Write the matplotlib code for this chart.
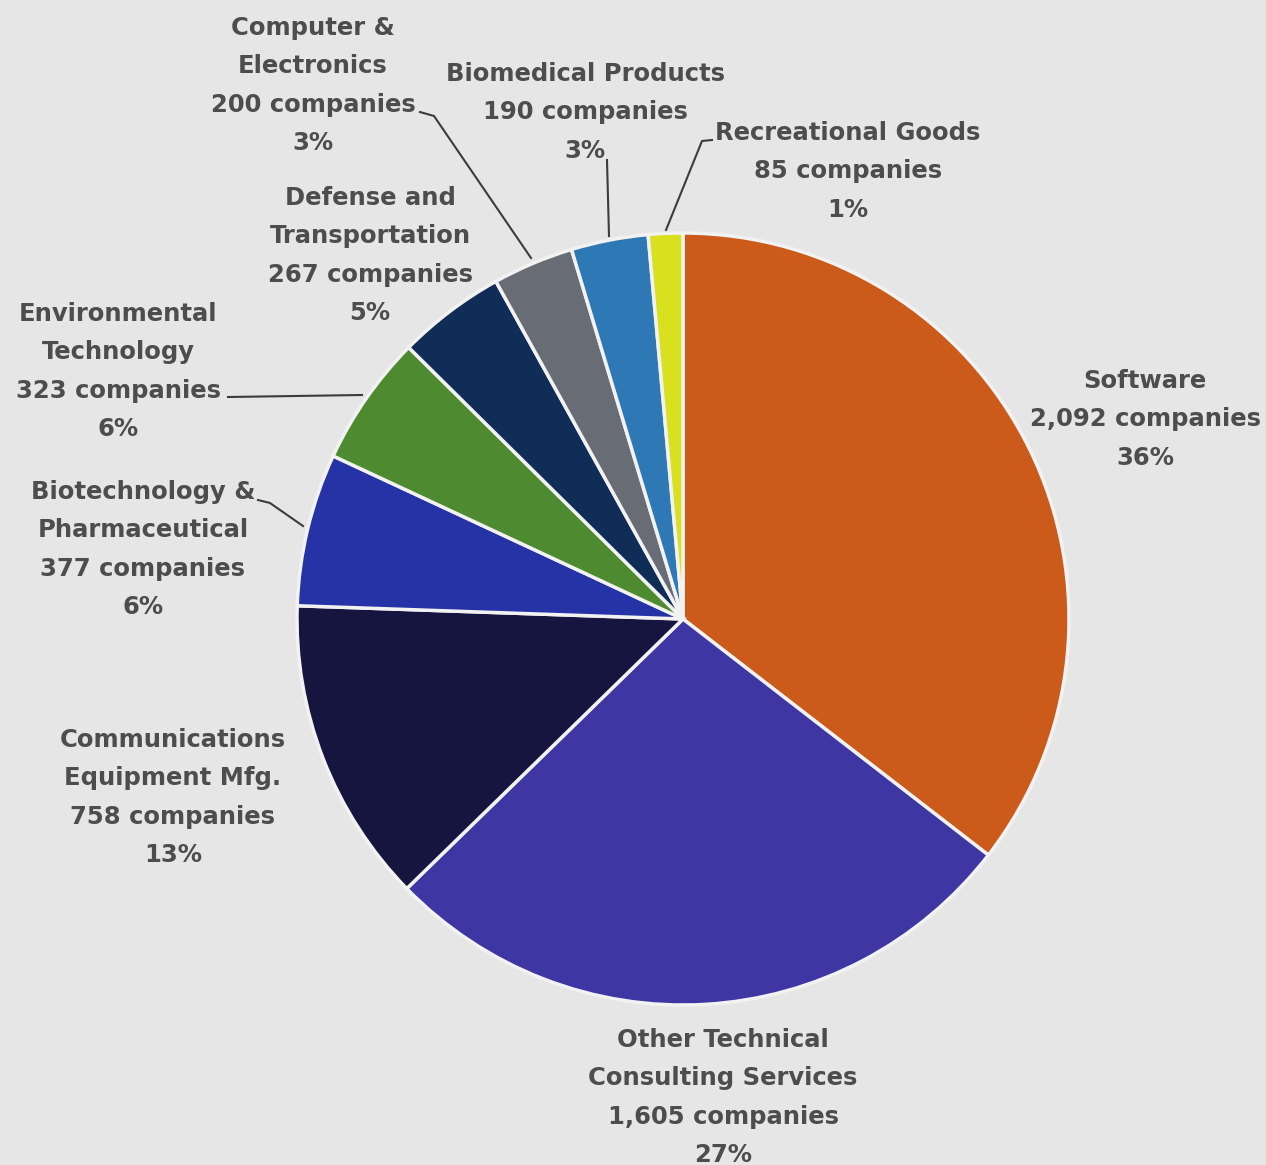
import matplotlib
matplotlib.use("Agg")
import matplotlib.pyplot as plt

# Company counts by sector, clockwise from the top
sectors = ["Software", "Other Technical\nConsulting Services", "Communications\nEquipment Mfg.",
           "Biotechnology &\nPharmaceutical", "Environmental\nTechnology", "Defense and\nTransportation",
           "Computer &\nElectronics", "Biomedical Products", "Recreational Goods"]
companies = [2092, 1605, 758, 377, 323, 267, 200, 190, 85]
count_labels = ["2,092", "1,605", "758", "377", "323", "267", "200", "190", "85"]
pct_labels = ["36%", "27%", "13%", "6%", "6%", "5%", "3%", "3%", "1%"]
colors = ["#cb5a1b", "#3d36a3", "#15153f", "#2533a6", "#4e8a2f", "#102d58", "#686c74", "#2f78b6", "#d9e11f"]

W, H = 1266, 1165
fig = plt.figure(figsize=(W / 100, H / 100), dpi=100)
fig.patch.set_facecolor("#e6e6e6")
ax = fig.add_axes([0, 0, 1, 1])
ax.set_facecolor("#e6e6e6")

cx, cy, r = 683, H - 619, 386
ax.pie(companies, colors=colors, startangle=90, counterclock=False,
       center=(cx, cy), radius=r, frame=True,
       wedgeprops=dict(edgecolor="#f2f2f2", linewidth=2.5))
ax.set_xlim(0, W)
ax.set_ylim(0, H)
ax.set_aspect("equal")
ax.axis("off")

# label block centre x and top line y (pixels from top)
label_pos = [(1145, 381), (723, 1040), (173, 740), (143, 492), (118, 314),
             (370, 198), (313, 28), (585, 74), (848, 133)]
txt_color = "#4d4d4d"
step = 38.3
for name, cnt, pct, (x, y0) in zip(sectors, count_labels, pct_labels, label_pos):
    lines = name.split("\n") + [cnt + " companies", pct]
    for i, line in enumerate(lines):
        ax.text(x, H - (y0 + i * step), line, ha="center", va="center",
                fontsize=17.5, fontweight="bold", color=txt_color, family="DejaVu Sans")

# leader lines (pixel coords from top)
leaders = [
    [(420, 112), (434, 116), (531, 258)],
    [(607, 160), (609, 236)],
    [(712, 140), (702, 141), (666, 230)],
    [(228, 397), (362, 395)],
    [(258, 500), (270, 503), (303, 526)],
]
for pts in leaders:
    xs = [p[0] for p in pts]
    ys = [H - p[1] for p in pts]
    ax.plot(xs, ys, color="#3c3c3c", lw=1.5)

fig.savefig("out.png", dpi=100, facecolor=fig.get_facecolor())
